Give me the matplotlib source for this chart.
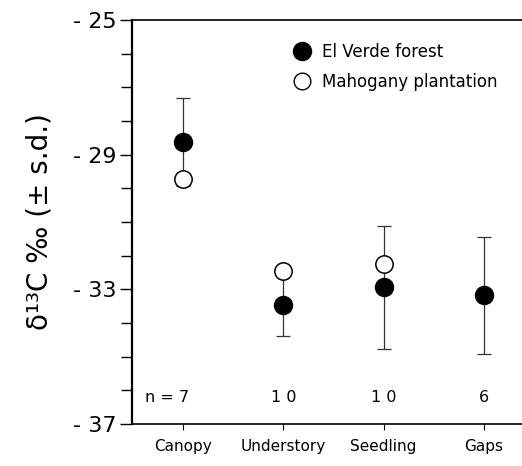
import matplotlib
matplotlib.use('Agg')
import matplotlib.pyplot as plt
from matplotlib.ticker import MultipleLocator, FixedLocator
from matplotlib.lines import Line2D

# data
categories = ["Canopy", "Understory", "Seedling", "Gaps"]
el_verde = [-28.62, -33.47, -32.94, -33.18]
el_verde_sd = [1.3, 0.91, 1.82, 1.73]
mahogany = [-29.71, -32.44, -32.24, None]
n_labels = ["n = 7", "1 0", "1 0", "6"]

plt.rcParams['font.family'] = ['DejaVu Sans']

fig = plt.figure(figsize=(5.22, 4.66), dpi=100)
ax = fig.add_axes([0.253, 0.090, 0.76, 0.867])

x = list(range(1, len(categories) + 1))

# El Verde with error bars
ax.errorbar(x, el_verde, yerr=el_verde_sd, fmt='o', color='black',
            ecolor='#333333', elinewidth=0.9, capsize=5, capthick=0.9,
            markersize=13, zorder=2)

# Mahogany plantation (open circles)
mx = [xi for xi, v in zip(x, mahogany) if v is not None]
my = [v for v in mahogany if v is not None]
ax.plot(mx, my, 'o', markerfacecolor='white', markeredgecolor='black',
        markeredgewidth=1.1, markersize=12.5, linestyle='none', zorder=3)

# sample sizes
for xi, lab in zip(x, n_labels):
    if xi == 1:
        ax.text(0.62, -36.2, lab, ha='left', va='center', fontsize=11.5)
    else:
        ax.text(xi, -36.2, lab, ha='center', va='center', fontsize=11.5)

ax.set_xlim(0.49, 4.45)
ax.set_ylim(-37, -25)
ax.set_xticks(x)
ax.set_xticklabels(categories, fontsize=11)
ax.tick_params(axis='x', direction='out', length=4, width=0.8, pad=7)

ax.yaxis.set_major_locator(FixedLocator([-37, -33, -29, -25]))
ax.yaxis.set_minor_locator(MultipleLocator(1))
ax.set_yticklabels(["- 37", "- 33", "- 29", "- 25"], fontsize=16)
ax.tick_params(axis='y', which='major', direction='out', length=9, width=1, pad=2)
ax.tick_params(axis='y', which='minor', direction='out', length=8, width=1)

ax.spines['right'].set_visible(False)
ax.spines['left'].set_linewidth(1.6)
ax.spines['bottom'].set_linewidth(1.2)
ax.spines['top'].set_linewidth(1.2)

ax.set_ylabel("δ¹³C ‰ (± s.d.)", fontsize=20, labelpad=14)

legend_items = [
    Line2D([], [], marker='o', color='black', linestyle='none', markersize=13),
    Line2D([], [], marker='o', markerfacecolor='white', markeredgecolor='black',
           linestyle='none', markersize=12),
]
ax.legend(legend_items, ["El Verde forest", "Mahogany plantation"],
          loc='upper left', bbox_to_anchor=(0.37, 0.96), frameon=False,
          fontsize=12, handletextpad=0.2, labelspacing=0.7, borderaxespad=0)

fig.savefig("out.png", dpi=100)
